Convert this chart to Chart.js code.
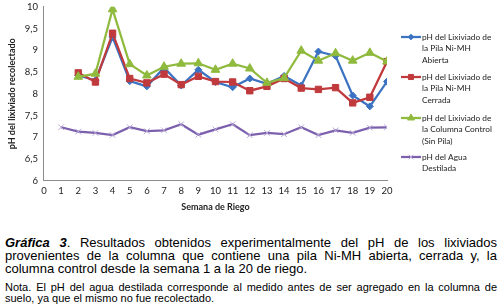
<!DOCTYPE html>
<html>
<head>
<meta charset="utf-8">
<script src="https://cdn.jsdelivr.net/npm/chart.js@4"></script>
<style>
  html, body { margin: 0; padding: 0; background: #fff; }
  body { width: 502px; height: 308px; overflow: hidden; }
  #wrap { position: relative; width: 502px; height: 230px; overflow: hidden; }
  #chart { position: absolute; left: 0; top: -5px; }
  .caption {
    font-family: "Liberation Sans", Arial, sans-serif;
    color: #000;
    margin: 0 5px;
    text-align: justify;
    text-align-last: left;
  }
  #cap1 { font-size: 13px; line-height: 13px; margin-top: 6px; }
  #cap2 { font-size: 11px; line-height: 11px; margin-top: 7px; }
</style>
</head>
<body>
<div id="wrap"><canvas id="chart" width="502" height="236"></canvas></div>
<div class="caption" id="cap1"><b><i>Gráfica 3</i></b>. Resultados obtenidos experimentalmente del pH de los lixiviados provenientes de la columna que contiene una pila Ni-MH abierta, cerrada y, la columna control desde la semana 1 a la 20 de riego.</div>
<div class="caption" id="cap2">Nota. El pH del agua destilada corresponde al medido antes de ser agregado en la columna de suelo, ya que el mismo no fue recolectado.</div>
<script>
// weeks of irrigation (x axis)
const weeks = [1, 2, 3, 4, 5, 6, 7, 8, 9, 10, 11, 12, 13, 14, 15, 16, 17, 18, 19, 20]

// leachate pH, measured from week 2 to 20
const phAbierta = [8.42, 8.31, 9.30, 8.29, 8.17, 8.60, 8.19, 8.55, 8.27, 8.15, 8.35, 8.23, 8.41, 8.19, 8.97, 8.87, 7.96, 7.71, 8.28]
const phCerrada = [8.48, 8.27, 9.39, 8.35, 8.25, 8.45, 8.21, 8.40, 8.28, 8.27, 8.07, 8.17, 8.35, 8.13, 8.10, 8.14, 7.79, 7.92, 8.74]
const phControl = [8.39, 8.46, 9.94, 8.68, 8.42, 8.62, 8.69, 8.70, 8.55, 8.69, 8.58, 8.25, 8.36, 8.99, 8.76, 8.93, 8.76, 8.94, 8.74]
// distilled water pH, weeks 1 to 20
const phAgua = [7.23, 7.13, 7.10, 7.05, 7.23, 7.14, 7.16, 7.30, 7.06, 7.18, 7.30, 7.05, 7.10, 7.07, 7.23, 7.05, 7.16, 7.10, 7.22, 7.23]

const seriesLabels = [
  ["pH del Lixiviado de", "la Pila Ni-MH", "Abierta"],
  ["pH del Lixiviado de", "la Pila Ni-MH", "Cerrada"],
  ["pH del Lixiviado de", "la Columna Control", "(Sin Pila)"],
  ["pH del Agua", "Destilada"]
]

const toPoints = (xs, ys) => ys.map((y, i) => ({ x: xs[i], y: y }))
const lateWeeks = weeks.slice(1)

// legend drawn by hand, Excel style with wrapped labels (canvas is shifted up 5px)
const sideLegend = {
  id: "sideLegend",
  afterDraw(chart) {
    const ctx = chart.ctx
    const starts = [42, 82, 123, 162]
    const lineH = 11.5
    ctx.save()
    ctx.font = "8.3px Lato"
    ctx.textBaseline = "middle"
    ctx.textAlign = "left"
    chart.data.datasets.forEach((ds, i) => {
      const y0 = starts[i]
      ctx.strokeStyle = ds.borderColor
      ctx.lineWidth = 2.25
      ctx.beginPath()
      ctx.moveTo(401, y0)
      ctx.lineTo(421, y0)
      ctx.stroke()
      ctx.fillStyle = ds.pointBackgroundColor
      ctx.strokeStyle = ds.pointBorderColor
      ctx.lineWidth = ds.pointBorderWidth
      Chart.helpers.drawPoint(ctx, {
        pointStyle: ds.pointStyle,
        radius: ds.pointRadius * 0.8,
        borderWidth: ds.pointBorderWidth,
        rotation: 0
      }, 411, y0)
      ctx.fillStyle = "#222"
      seriesLabels[i].forEach((t, k) => ctx.fillText(t, 422, y0 + k * lineH))
    })
    ctx.restore()
  }
}

new Chart(document.getElementById("chart"), {
  type: "line",
  data: {
    datasets: [
      {
        label: "Abierta",
        data: toPoints(lateWeeks, phAbierta),
        borderColor: "#3b73c2",
        backgroundColor: "#3b73c2",
        pointBackgroundColor: "#3b73c2",
        pointBorderColor: "#3b73c2",
        pointStyle: "rectRot",
        pointRadius: 3.5,
        pointBorderWidth: 1,
        borderWidth: 2.25,
        order: 4
      },
      {
        label: "Cerrada",
        data: toPoints(lateWeeks, phCerrada),
        borderColor: "#c03a3d",
        backgroundColor: "#c03a3d",
        pointBackgroundColor: "#c03a3d",
        pointBorderColor: "#c03a3d",
        pointStyle: "rect",
        pointRadius: 4.5,
        pointBorderWidth: 1,
        borderWidth: 2.25,
        order: 3
      },
      {
        label: "Control",
        data: toPoints(lateWeeks, phControl),
        borderColor: "#8fba3e",
        backgroundColor: "#8fba3e",
        pointBackgroundColor: "#8fba3e",
        pointBorderColor: "#8fba3e",
        pointStyle: "triangle",
        pointRadius: 5,
        pointBorderWidth: 1,
        borderWidth: 2.25,
        order: 2
      },
      {
        label: "Agua",
        data: toPoints(weeks, phAgua),
        borderColor: "#7c60ae",
        backgroundColor: "#7c60ae",
        pointBackgroundColor: "#b8aad6",
        pointBorderColor: "#b8aad6",
        pointStyle: "crossRot",
        pointRadius: 4,
        pointBorderWidth: 1,
        borderWidth: 2.25,
        order: 1
      }
    ]
  },
  options: {
    responsive: false,
    animation: false,
    events: [],
    layout: {
      padding: { top: 1, right: 115, left: 7, bottom: 19 }
    },
    plugins: {
      legend: { display: false },
      tooltip: { enabled: false }
    },
    scales: {
      x: {
        type: "linear",
        min: 0,
        max: 20,
        ticks: {
          stepSize: 1,
          autoSkip: false,
          minRotation: 0,
          maxRotation: 0,
          color: "#222",
          font: { family: "Lato", size: 9.5 },
          padding: 4
        },
        grid: { display: false, drawTicks: false },
        border: { display: true, color: "#8c8c8c", width: 1 },
        title: {
          display: true,
          text: "Semana de Riego",
          color: "#222",
          font: { family: "Lato", size: 9, weight: "bold" },
          padding: { top: 1, bottom: 0 }
        }
      },
      y: {
        min: 6,
        max: 10,
        ticks: {
          stepSize: 0.5,
          color: "#222",
          font: { family: "Lato", size: 9.5 },
          padding: 6,
          callback: v => String(v).replace(".", ",")
        },
        grid: { display: false, drawTicks: false },
        border: { display: true, color: "#8c8c8c", width: 1 },
        title: {
          display: true,
          text: "pH del lixiviado recolectado",
          color: "#222",
          font: { family: "Lato", size: 9, weight: "bold" },
          padding: { top: 0, bottom: 1 }
        }
      }
    }
  },
  plugins: [sideLegend]
})
</script>
</body>
</html>
